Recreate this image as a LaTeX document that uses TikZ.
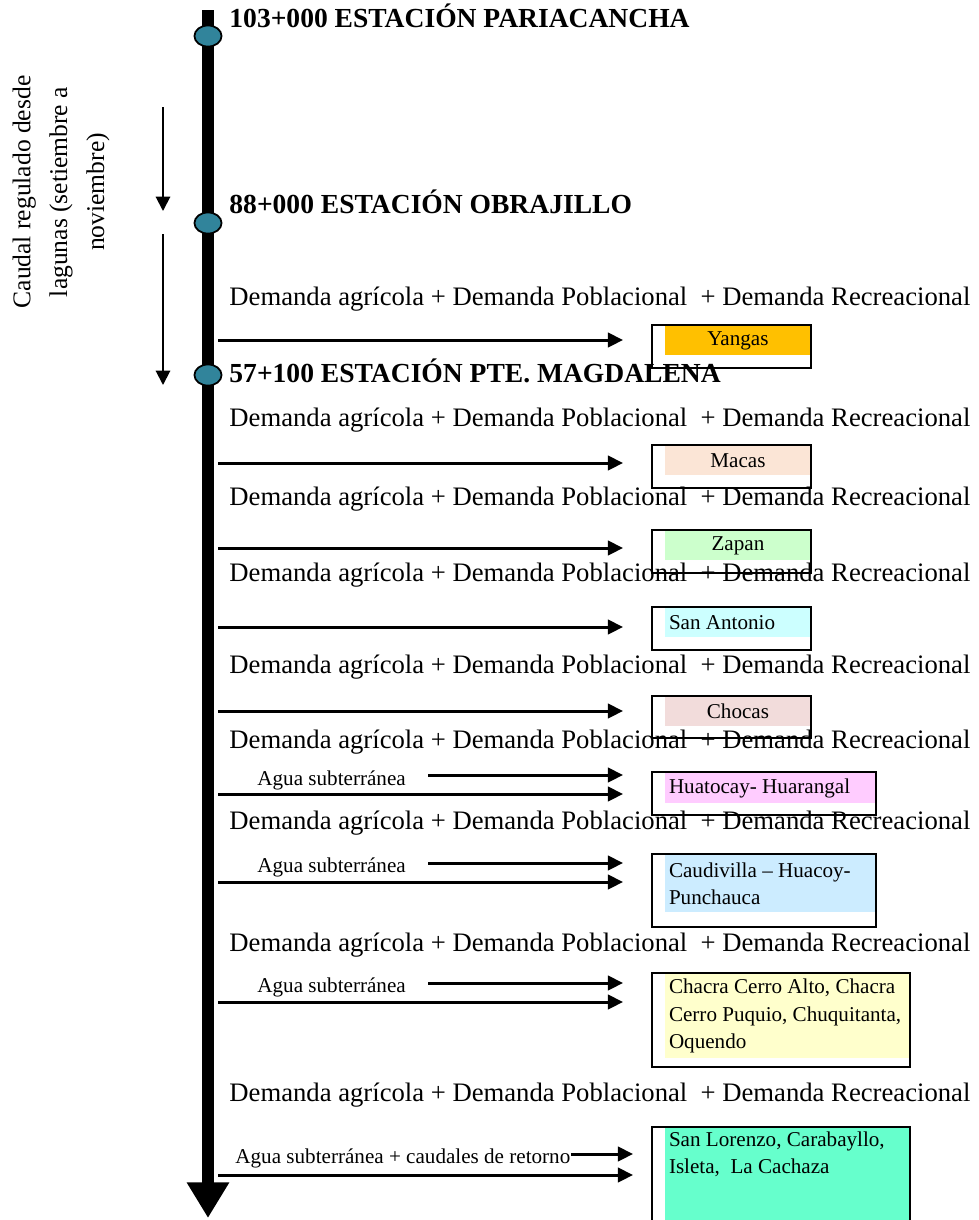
\documentclass[tikz,border=0pt]{standalone}
\usepackage{fontspec}
\setmainfont{Liberation Serif}
\usetikzlibrary{positioning,arrows.meta,shapes.geometric}

\definecolor{stationblue}{RGB}{49,132,155}
\definecolor{yangascol}{HTML}{FFC000}
\definecolor{macascol}{HTML}{FBE5D6}
\definecolor{zapancol}{HTML}{CCFFCC}
\definecolor{antoniocol}{HTML}{CCFFFF}
\definecolor{chocascol}{HTML}{F2DCDB}
\definecolor{huatocaycol}{HTML}{FFCCFF}
\definecolor{caudivillacol}{HTML}{CCECFF}
\definecolor{chacracol}{HTML}{FFFFCC}
\definecolor{lorenzocol}{HTML}{66FFCC}

\begin{document}
\begin{tikzpicture}[x=0.45pt, y=-0.45pt,
    river/.style={line width=5.4pt, -{Triangle[width=18pt,length=16pt]}},
    station/.style={ellipse, draw, line width=0.8pt, fill=stationblue, minimum width=12.2pt, minimum height=9.5pt, inner sep=0pt},
    header/.style={anchor=base west, inner sep=0pt, font=\bfseries\fontsize{12.4}{14}\selectfont},
    demand/.style={anchor=base west, inner sep=0pt, font=\fontsize{12}{14}\selectfont},
    agua/.style={anchor=base west, inner sep=0pt, font=\fontsize{9.5}{12.2}\selectfont},
    period/.style={line width=0.9pt, -{Triangle[width=6.5pt,length=6.5pt]}},
    flow/.style={line width=1.35pt, -{Triangle[width=6.5pt,length=6.8pt]}},
    patch/.style={anchor=north west, inner sep=0pt, font=\fontsize{9.5}{12.2}\selectfont},
    listpatch/.style={patch, align=flush left, inner xsep=1.6pt},
    frame/.style={draw, line width=0.9pt}
]
\useasboundingbox (0,0) rectangle (979,1220);

% river and stations
\coordinate (source) at (208,10);
\coordinate (mouth) at (208,1218);
\draw[river] (source) -- (mouth);
\node[station] (pariacancha) at (208,36) {};
\node[station] (obrajillo) at (208,223) {};
\node[station] (magdalena) at (208,375) {};
\node[header] (pariacanchalbl) at (229,27) {103+000 ESTACIÓN PARIACANCHA};
\node[header] (obrajillolbl) at (229,213) {88+000 ESTACIÓN OBRAJILLO};
\node[header] (magdalenalbl) at (229,382) {57+100 ESTACIÓN PTE. MAGDALENA};

% regulated flow
\node[rotate=90, align=center, font=\fontsize{11.5}{16.6}\selectfont] (lagunas) at (61,192)
    {Caudal regulado desde\\lagunas (setiembre a\\noviembre)};
\coordinate (p1a) at (163,107);
\coordinate (p1b) at (163,211);
\coordinate (p2a) at (163,234);
\coordinate (p2b) at (163,385);
\draw[period] (p1a) -- (p1b);
\draw[period] (p2a) -- (p2b);

% demands
\node[demand] (d1) at (229,305) {Demanda agrícola + Demanda Poblacional\ \ + Demanda Recreacional};
\node[demand] (d2) at (229,426) {Demanda agrícola + Demanda Poblacional\ \ + Demanda Recreacional};
\node[demand] (d3) at (229,505) {Demanda agrícola + Demanda Poblacional\ \ + Demanda Recreacional};
\node[demand] (d4) at (229,581) {Demanda agrícola + Demanda Poblacional\ \ + Demanda Recreacional};
\node[demand] (d5) at (229,673) {Demanda agrícola + Demanda Poblacional\ \ + Demanda Recreacional};
\node[demand] (d6) at (229,748) {Demanda agrícola + Demanda Poblacional\ \ + Demanda Recreacional};
\node[demand] (d7) at (229,829) {Demanda agrícola + Demanda Poblacional\ \ + Demanda Recreacional};
\node[demand] (d8) at (229,951) {Demanda agrícola + Demanda Poblacional\ \ + Demanda Recreacional};
\node[demand] (d9) at (229,1101) {Demanda agrícola + Demanda Poblacional\ \ + Demanda Recreacional};

% zones
\node[patch, fill=yangascol, minimum width=65.25pt, minimum height=13.5pt] (yangas) at (665,325) {Yangas};
\draw[frame] ([xshift=-5.85pt]yangas.north west) rectangle ([yshift=-5.4pt]yangas.south east);
\node[patch, fill=macascol, minimum width=65.25pt, minimum height=13.5pt] (macas) at (665,445) {Macas};
\draw[frame] ([xshift=-5.85pt]macas.north west) rectangle ([yshift=-5.4pt]macas.south east);
\node[patch, fill=zapancol, minimum width=65.25pt, minimum height=13.5pt] (zapan) at (665,530) {Zapan};
\draw[frame] ([xshift=-5.85pt]zapan.north west) rectangle ([yshift=-5.4pt]zapan.south east);
\node[listpatch, fill=antoniocol, text width=62.05pt, minimum height=13.5pt] (antonio) at (665,607) {San Antonio};
\draw[frame] ([xshift=-5.85pt]antonio.north west) rectangle ([yshift=-5.4pt]antonio.south east);
\node[patch, fill=chocascol, minimum width=65.25pt, minimum height=13.5pt] (chocas) at (665,696) {Chocas};
\draw[frame] ([xshift=-5.85pt]chocas.north west) rectangle ([yshift=-5.0pt]chocas.south east);
\node[listpatch, fill=huatocaycol, text width=91.3pt, minimum height=13.95pt] (huatocay) at (665,772) {Huatocay- Huarangal};
\draw[frame] ([xshift=-5.85pt]huatocay.north west) rectangle ([yshift=-4.95pt]huatocay.south east);
\node[listpatch, fill=caudivillacol, text width=91.3pt, minimum height=26.1pt] (caudivilla) at (665,854) {Caudivilla -- Huacoy-\\Punchauca};
\draw[frame] ([xshift=-5.85pt]caudivilla.north west) rectangle ([yshift=-6.3pt]caudivilla.south east);
\node[listpatch, fill=chacracol, text width=106.6pt, minimum height=38.25pt] (chacra) at (665,973) {Chacra Cerro Alto, Chacra\\Cerro Puquio, Chuquitanta,\\Oquendo};
\draw[frame] ([xshift=-5.85pt]chacra.north west) rectangle ([yshift=-3.6pt]chacra.south east);
\node[patch, fill=lorenzocol, minimum width=109.8pt, minimum height=41.85pt] (lorenzo) at (665,1127) {};
\node[listpatch, text width=106.6pt, inner ysep=1.8pt] (lorenzotxt) at (lorenzo.north west) {San Lorenzo, Carabayllo,\\Isleta,\ \ La Cachaza};
\draw[frame] ([xshift=-5.85pt]lorenzo.south west) |- (lorenzo.north east) -- (lorenzo.south east);

% flows
\coordinate (bank) at (218,0);
\coordinate (wellstart) at (428,0);
\coordinate (yangastip) at (623,340);
\coordinate (macastip) at (623,463);
\coordinate (zapantip) at (623,548);
\coordinate (antoniotip) at (623,627);
\coordinate (chocastip) at (623,711);
\draw[flow] (bank |- yangastip) -- (yangastip);
\draw[flow] (bank |- macastip) -- (macastip);
\draw[flow] (bank |- zapantip) -- (zapantip);
\draw[flow] (bank |- antoniotip) -- (antoniotip);
\draw[flow] (bank |- chocastip) -- (chocastip);

\node[agua] (agua1) at (257,785) {Agua subterránea};
\node[agua] (agua2) at (257,872) {Agua subterránea};
\node[agua] (agua3) at (257,992) {Agua subterránea};
\node[agua] (agua4) at (235,1163) {Agua subterránea + caudales de retorno};
\coordinate (huatocaytipa) at (623,775);
\coordinate (huatocaytipb) at (623,794);
\coordinate (caudivillatipa) at (623,863);
\coordinate (caudivillatipb) at (623,882);
\coordinate (chacratipa) at (623,983);
\coordinate (chacratipb) at (623,1002);
\coordinate (lorenzotipa) at (633,1154);
\coordinate (lorenzotipb) at (633,1175);
\draw[flow] (wellstart |- huatocaytipa) -- (huatocaytipa);
\draw[flow] (bank |- huatocaytipb) -- (huatocaytipb);
\draw[flow] (wellstart |- caudivillatipa) -- (caudivillatipa);
\draw[flow] (bank |- caudivillatipb) -- (caudivillatipb);
\draw[flow] (wellstart |- chacratipa) -- (chacratipa);
\draw[flow] (bank |- chacratipb) -- (chacratipb);
\draw[flow] (agua4.east |- lorenzotipa) -- (lorenzotipa);
\draw[flow] (bank |- lorenzotipb) -- (lorenzotipb);
\end{tikzpicture}
\end{document}
